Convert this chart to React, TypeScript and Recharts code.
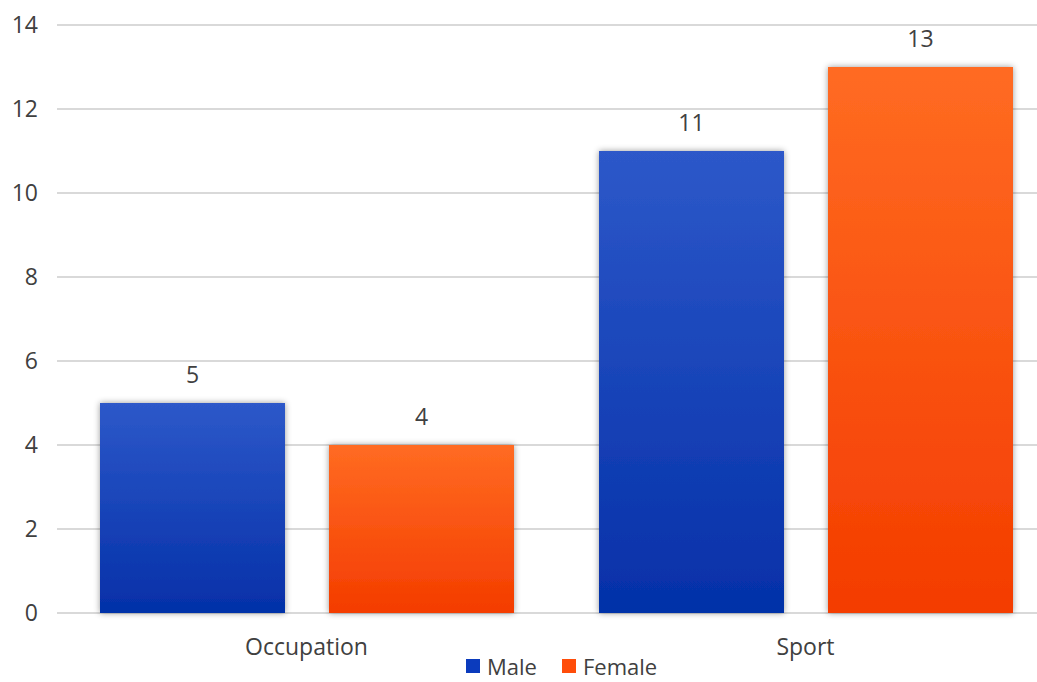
import React from 'react';
import { BarChart, Bar, XAxis, YAxis, CartesianGrid, LabelList } from 'recharts';

const categories = ['Occupation', 'Sport'];
const maleValues = [5, 11];
const femaleValues = [4, 13];
const yTicks = [0, 2, 4, 6, 8, 10, 12, 14];

const seriesNames = ['Male', 'Female'];
const legendColors = ['#0b3bbd', '#ff4d0a'];

const data = categories.map((name, i) => ({
  name,
  Male: maleValues[i],
  Female: femaleValues[i],
}));

const FONT = '"Open Sans", sans-serif';
const TEXT = '#404040';
const FS = 23;

export default function App() {
  return (
    <div
      style={{
        position: 'absolute',
        left: 0,
        top: 0,
        width: 1037,
        height: 682,
        overflow: 'hidden',
        background: '#ffffff',
        fontFamily: FONT,
      }}
    >
      <BarChart
        width={1060}
        height={682}
        data={data}
        margin={{ top: 25, right: 5, bottom: 0, left: 0 }}
        barCategoryGap={43}
        barGap={44}
      >
        <defs>
          <linearGradient id="maleFill" x1="0" y1="0" x2="0" y2="1">
            <stop offset="0%" stopColor="#2d58c9" />
            <stop offset="100%" stopColor="#0430a8" />
          </linearGradient>
          <linearGradient id="femaleFill" x1="0" y1="0" x2="0" y2="1">
            <stop offset="0%" stopColor="#ff6b22" />
            <stop offset="100%" stopColor="#f43c00" />
          </linearGradient>
          <filter id="barShadow" x="-10%" y="-10%" width="120%" height="120%">
            <feDropShadow dx="0" dy="0" stdDeviation="3" floodColor="#000000" floodOpacity="0.4" />
          </filter>
        </defs>
        <CartesianGrid vertical={false} stroke="#d9d9d9" strokeWidth={2} />
        <XAxis
          dataKey="name"
          axisLine={false}
          tickLine={false}
          tickMargin={20}
          height={69}
          tick={{ fill: TEXT, fontSize: FS, fontFamily: FONT }}
        />
        <YAxis
          domain={[0, 14]}
          ticks={yTicks}
          width={57}
          axisLine={false}
          tickLine={false}
          tickMargin={13}
          tick={{ fill: TEXT, fontSize: FS, fontFamily: FONT }}
        />
        <Bar dataKey="Male" fill="url(#maleFill)" filter="url(#barShadow)" isAnimationActive={false}>
          <LabelList dataKey="Male" position="top" offset={20} fill={TEXT} fontSize={FS} fontFamily={FONT} />
        </Bar>
        <Bar dataKey="Female" fill="url(#femaleFill)" filter="url(#barShadow)" isAnimationActive={false}>
          <LabelList dataKey="Female" position="top" offset={20} fill={TEXT} fontSize={FS} fontFamily={FONT} />
        </Bar>
      </BarChart>
      <div
        style={{
          position: 'absolute',
          left: 466,
          bottom: 1,
          display: 'flex',
          alignItems: 'center',
          fontSize: 22,
          color: TEXT,
          whiteSpace: 'nowrap',
        }}
      >
        {seriesNames.map((s, i) => (
          <div key={s} style={{ display: 'flex', alignItems: 'center', marginRight: i === 0 ? 25 : 0 }}>
            <span
              style={{
                display: 'inline-block',
                width: 14,
                height: 14,
                background: legendColors[i],
                marginRight: 7,
              }}
            />
            <span>{s}</span>
          </div>
        ))}
      </div>
    </div>
  );
}
